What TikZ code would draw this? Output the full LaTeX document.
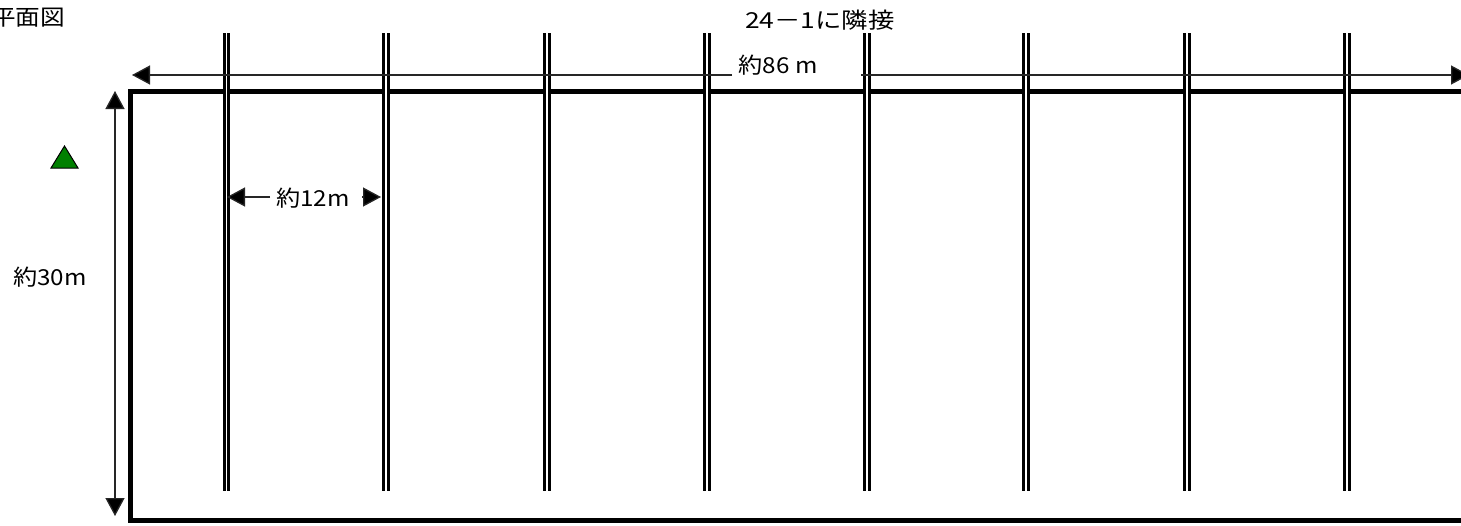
\documentclass[tikz,border=0pt]{standalone}
\usepackage{fontspec}
\usepackage{graphicx}
\setmainfont{Liberation Sans}
\newfontfamily\jp{Noto Sans CJK JP}
\newcommand{\jpw}[2]{\scalebox{#1}[1]{\jp #2}}
\usetikzlibrary{arrows.meta}
\tikzset{
  px/.style={x=1pt,y=-1pt},
  wall/.style={draw=black,line width=5pt,line cap=butt,line join=miter},
  railcore/.style={draw=white,line width=2pt},
  railside/.style={draw=black,line width=2.9pt},
  dim/.style={draw=black!85,line width=1.3pt},
  tipb/.tip={Triangle[length=18pt,width=19pt,fill=black]},
  lab/.style={inner sep=0pt,font=\fontsize{22}{24}\selectfont,text=black},
}
\begin{document}
\begin{tikzpicture}[px]
\useasboundingbox (0,0) rectangle (1461,525);
\clip (0,0) rectangle (1461,525);
\fill[white] (0,0) rectangle (1461,525);
% site outline
\coordinate (tl) at (130.5,91.5);
\coordinate (bl) at (130.5,520);
\coordinate (tr) at (1475,91.5);
\coordinate (br) at (1475,520);
\draw[wall] (tr) -- (tl) -- (bl) -- (br);
% rails
\foreach \n/\x in {a/226.5,b/386,c/547,d/707,e/867,f/1026,g/1187,h/1347}{
  \coordinate (\n t) at (\x,33);
  \coordinate (\n b) at (\x,491);
  \draw[railcore] (\n t) -- (\n b);
  \draw[railside] ([xshift=-2.3pt]\n t) -- ([xshift=-2.3pt]\n b);
  \draw[railside] ([xshift=2.3pt]\n t) -- ([xshift=2.3pt]\n b);
}
% texts
\node[lab] (title) at (28,18) {\jpw{1.12}{平面図}};
\node[lab] (adj) at (820,20) {\jpw{1.2}{24－1に隣接}};
\node[lab] (wlen) at (778,65) {\jpw{1.1}{約86 m}};
\node[lab] (hlen) at (50,277) {\jpw{1.1}{約30m}};
\node[lab] (span) at (313,198) {\jpw{1.1}{約12m}};
% length arrows
\coordinate (wl) at (132,75);
\coordinate (wr) at (1469,75);
\coordinate (wa) at (732,75);
\coordinate (wb) at (861,75);
\draw[dim,-tipb] (wa) -- (wl);
\draw[dim,-tipb] (wb) -- (wr);
\coordinate (ht) at (115,91);
\coordinate (hb) at (115,516);
\draw[dim,tipb-tipb] (ht) -- (hb);
\coordinate (sl) at (227,197);
\coordinate (sa) at (270,197);
\coordinate (sr) at (381,197);
\coordinate (sb) at (362,197);
\draw[dim,-tipb] (sa) -- (sl);
\draw[dim,-tipb] (sb) -- (sr);
% marker
\draw[fill=green!50!black,draw=black,line width=1pt,line join=miter] (64.5,146) -- (78,168) -- (51,168) -- cycle;
\end{tikzpicture}
\end{document}
